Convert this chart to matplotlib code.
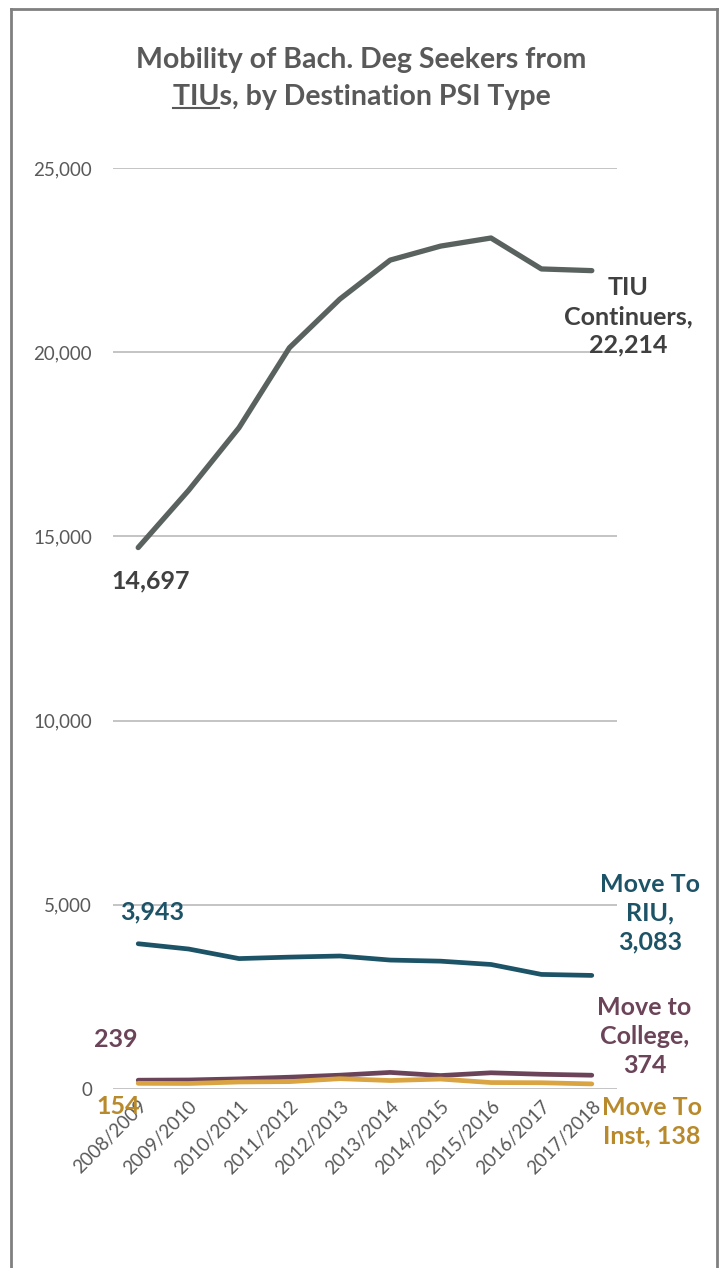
import matplotlib.pyplot as plt
from matplotlib.lines import Line2D

plt.rcParams['font.family'] = ['Lato', 'DejaVu Sans']

years = ['2008/2009', '2009/2010', '2010/2011', '2011/2012', '2012/2013',
         '2013/2014', '2014/2015', '2015/2016', '2016/2017', '2017/2018']
tiu_continuers = [14697, 16250, 17950, 20120, 21440, 22500, 22880, 23100, 22260, 22214]
move_riu = [3943, 3800, 3540, 3580, 3610, 3500, 3470, 3380, 3110, 3083]
move_college = [239, 245, 275, 320, 375, 450, 365, 440, 400, 374]
move_inst = [154, 150, 190, 200, 280, 230, 270, 175, 170, 138]

C_TIU = '#59625f'
C_RIU = '#1d5367'
C_COL = '#6c4459'
C_INST = '#d9a441'
C_INST_TXT = '#b98a2c'
C_DARK = '#404040'
C_AX = '#595959'

W, H = 723, 1268
fig = plt.figure(figsize=(W / 100, H / 100), dpi=100)
ax = fig.add_axes([113 / W, 1 - 1089 / H, 504 / W, 921 / H])

x = range(len(years))
ax.plot(x, tiu_continuers, color=C_TIU, lw=3.8, solid_capstyle='round', zorder=3)
ax.plot(x, move_riu, color=C_RIU, lw=3.4, solid_capstyle='round', zorder=3)
ax.plot(x, move_college, color=C_COL, lw=3.4, solid_capstyle='round', zorder=3)
ax.plot(x, move_inst, color=C_INST, lw=3.4, solid_capstyle='round', zorder=3)

ax.set_xlim(-0.5, len(years) - 0.5)
ax.set_ylim(0, 25000)
ax.set_yticks(range(0, 25001, 5000))
ax.set_yticklabels([f'{v:,}' for v in range(0, 25001, 5000)])
ax.set_xticks(list(x))
ax.set_xticklabels(years, rotation=45, ha='right', rotation_mode='anchor')
ax.tick_params(axis='y', length=0, pad=15, labelsize=13.5, labelcolor=C_AX)
ax.tick_params(axis='x', length=0, pad=6, labelsize=13.5, labelcolor=C_AX)
ax.grid(axis='y', color='#bfbfbf', lw=1.3)
ax.set_axisbelow(True)
for s in ax.spines.values():
    s.set_visible(False)

# value labels at both ends of each series
lab = dict(fontsize=18, fontweight='bold', clip_on=False, textcoords='offset points',
           va='center', linespacing=1.3, zorder=5)
ax.annotate(f'{tiu_continuers[0]:,}', (0, tiu_continuers[0]), xytext=(-19, -24),
            ha='left', color=C_DARK, **lab)
ax.annotate(f'TIU\nContinuers,\n{tiu_continuers[-1]:,}', (9, tiu_continuers[-1]),
            xytext=(26, -33), ha='center', color=C_DARK, **lab)
ax.annotate(f'{move_riu[0]:,}', (0, move_riu[0]), xytext=(-13, 23),
            ha='left', color=C_RIU, **lab)
ax.annotate(f'Move To\nRIU,\n{move_riu[-1]:,}', (9, move_riu[-1]),
            xytext=(42, 45), ha='center', color=C_RIU, **lab)
ax.annotate(f'{move_college[0]:,}', (0, move_college[0]), xytext=(-32, 29),
            ha='left', color=C_COL, **lab)
ax.annotate(f'Move to\nCollege,\n{move_college[-1]:,}', (9, move_college[-1]),
            xytext=(38, 28), ha='center', color=C_COL, **lab)
ax.annotate(f'{move_inst[0]:,}', (0, move_inst[0]), xytext=(-30, -17),
            ha='left', color=C_INST_TXT, **lab)
ax.annotate(f'Move To\nInst, {move_inst[-1]:,}', (9, move_inst[-1]),
            xytext=(43, -27), ha='center', color=C_INST_TXT, **lab)

# title, with "TIU" underlined on the second line
ttl = dict(ha='center', va='center', fontsize=20.5, fontweight='bold', color=C_AX)
fig.text(0.5, 1 - 60 / H, 'Mobility of Bach. Deg Seekers from', **ttl)
line2 = fig.text(0.5, 1 - 97 / H, 'TIUs, by Destination PSI Type', **ttl)
fig.canvas.draw()
r = fig.canvas.get_renderer()
bb = line2.get_window_extent(r)
probe = fig.text(0, 0, 'TIU', fontsize=20.5, fontweight='bold')
tw = probe.get_window_extent(r).width
probe.remove()
uy = (bb.y0 + 2) / H
fig.add_artist(Line2D([bb.x0 / W, (bb.x0 + tw) / W], [uy, uy],
                      transform=fig.transFigure, color=C_AX, lw=1.5))

# chart frame
for xs, ys in [([11 / W, 11 / W], [0, 1 - 9 / H]),
               ([11 / W, 717 / W], [1 - 9 / H, 1 - 9 / H]),
               ([717 / W, 717 / W], [1 - 9 / H, 0])]:
    fig.add_artist(Line2D(xs, ys, transform=fig.transFigure, color='#808080', lw=2))

fig.savefig('out.png', dpi=100)
